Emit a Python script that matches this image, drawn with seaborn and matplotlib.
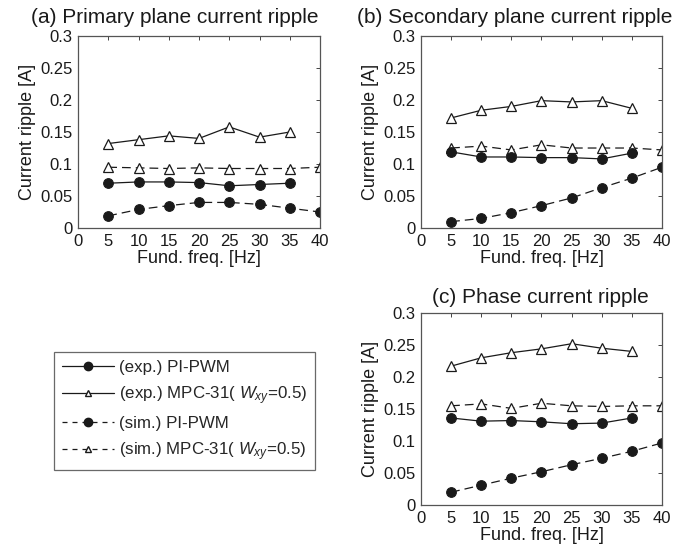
import matplotlib
matplotlib.use("Agg")
import matplotlib.pyplot as plt
import seaborn as sns
import numpy as np
from matplotlib.lines import Line2D

sns.set_style("white")
plt.rcParams['font.family'] = ['Liberation Sans', 'DejaVu Sans']
plt.rcParams['mathtext.fontset'] = 'custom'
plt.rcParams['mathtext.it'] = 'Liberation Sans:italic'
plt.rcParams['mathtext.rm'] = 'Liberation Sans'

freq_exp = [5, 10, 15, 20, 25, 30, 35]
freq_sim = [5, 10, 15, 20, 25, 30, 35, 40]

titles = ["(a) Primary plane current ripple",
          "(b) Secondary plane current ripple",
          "(c) Phase current ripple"]

a_exp_pi = [0.070, 0.072, 0.072, 0.071, 0.066, 0.068, 0.070]
a_exp_mpc = [0.132, 0.138, 0.144, 0.140, 0.158, 0.142, 0.150]
a_sim_pi = [0.019, 0.029, 0.035, 0.040, 0.040, 0.037, 0.031, 0.025]
a_sim_mpc = [0.095, 0.094, 0.093, 0.094, 0.093, 0.093, 0.093, 0.095]

b_exp_pi = [0.119, 0.111, 0.111, 0.110, 0.110, 0.108, 0.117]
b_exp_mpc = [0.172, 0.184, 0.190, 0.199, 0.197, 0.199, 0.187]
b_sim_pi = [0.010, 0.015, 0.024, 0.035, 0.047, 0.063, 0.078, 0.095]
b_sim_mpc = [0.125, 0.128, 0.122, 0.130, 0.125, 0.125, 0.125, 0.122]

c_exp_pi = [0.136, 0.131, 0.132, 0.130, 0.127, 0.128, 0.136]
c_exp_mpc = [0.217, 0.230, 0.238, 0.244, 0.252, 0.245, 0.240]
c_sim_pi = [0.020, 0.031, 0.042, 0.052, 0.063, 0.073, 0.084, 0.097]
c_sim_mpc = [0.155, 0.158, 0.151, 0.159, 0.155, 0.154, 0.155, 0.155]

legend_labels = ["(exp.) PI-PWM",
                 "(exp.) MPC-31( $W_{xy}$=0.5)",
                 "(sim.) PI-PWM",
                 "(sim.) MPC-31( $W_{xy}$=0.5)"]

panels = [(a_exp_pi, a_exp_mpc, a_sim_pi, a_sim_mpc),
          (b_exp_pi, b_exp_mpc, b_sim_pi, b_sim_mpc),
          (c_exp_pi, c_exp_mpc, c_sim_pi, c_sim_mpc)]

fig = plt.figure(figsize=(6.86, 5.54), dpi=100)
rects = [[0.1137, 0.5884, 0.3528, 0.3466],
         [0.6137, 0.5884, 0.3513, 0.3466],
         [0.6137, 0.0884, 0.3513, 0.3466]]
title_pos = [(0.40, 1.068), (0.39, 1.068), (0.494, 1.052)]

LC = '#1a1a1a'
DASH = (7, 4)
TFS = 12
LFS = 13

for rect, title, tp, (epi, empc, spi, smpc) in zip(rects, titles, title_pos, panels):
    ax = fig.add_axes(rect)
    sns.lineplot(x=freq_exp, y=empc, ax=ax, color=LC, lw=0.9, marker='^',
                 markersize=7, markerfacecolor='white', markeredgecolor=LC,
                 markeredgewidth=0.9)
    sns.lineplot(x=freq_sim, y=smpc, ax=ax, color=LC, lw=0.9, marker='^',
                 markersize=7, markerfacecolor='white', markeredgecolor=LC,
                 markeredgewidth=0.9, linestyle=(0, DASH))
    sns.lineplot(x=freq_exp, y=epi, ax=ax, color=LC, lw=0.9, marker='o',
                 markersize=7, markerfacecolor=LC, markeredgecolor=LC)
    sns.lineplot(x=freq_sim, y=spi, ax=ax, color=LC, lw=0.9, marker='o',
                 markersize=7, markerfacecolor=LC, markeredgecolor=LC,
                 linestyle=(0, DASH))
    ax.set_xlim(0, 40)
    ax.set_ylim(0, 0.3)
    ax.set_xticks([0, 5, 10, 15, 20, 25, 30, 35, 40])
    ax.set_yticks([0, 0.05, 0.1, 0.15, 0.2, 0.25, 0.3])
    ax.set_yticklabels(['0', '0.05', '0.1', '0.15', '0.2', '0.25', '0.3'])
    ax.tick_params(direction='in', top=True, right=True, length=3,
                   width=0.7, colors='#444444', labelcolor='#1a1a1a',
                   labelsize=TFS, pad=4)
    for s in ax.spines.values():
        s.set_color('#555555')
        s.set_linewidth(0.9)
    ax.set_xlabel("Fund. freq. [Hz]", fontsize=LFS, color='#1a1a1a', labelpad=1)
    ax.set_ylabel("Current ripple [A]", fontsize=LFS, color='#1a1a1a', labelpad=3)
    ax.text(tp[0], tp[1], title, transform=ax.transAxes, ha='center',
            va='baseline', fontsize=15, color='#1a1a1a')

handles = [
    Line2D([], [], color=LC, lw=0.9, marker='o', markersize=6,
           markerfacecolor=LC, markeredgecolor=LC),
    Line2D([], [], color=LC, lw=0.9, marker='^', markersize=5,
           markerfacecolor='white', markeredgecolor=LC),
    Line2D([], [], color=LC, lw=0.9, marker='o', markersize=6,
           markerfacecolor=LC, markeredgecolor=LC, linestyle=(0, (4, 4))),
    Line2D([], [], color=LC, lw=0.9, marker='^', markersize=5,
           markerfacecolor='white', markeredgecolor=LC, linestyle=(0, (4, 4))),
]
leg = fig.legend(handles, legend_labels, loc='upper left',
                 bbox_to_anchor=(0.0787, 0.3646), fontsize=12.2,
                 handlelength=3.1, handletextpad=0.3, labelspacing=0.55,
                 frameon=True, fancybox=False, borderpad=0.45,
                 borderaxespad=0)
leg.get_frame().set_edgecolor('#444444')
leg.get_frame().set_linewidth(0.9)

fig.savefig("out.png", dpi=100)
